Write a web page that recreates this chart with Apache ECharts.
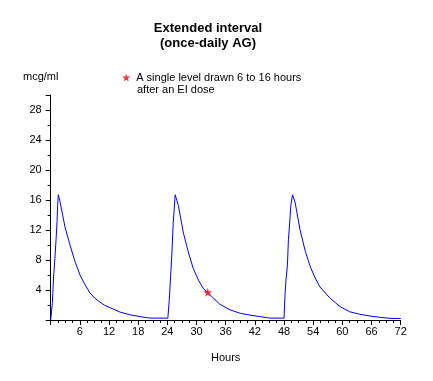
<!DOCTYPE html>
<html>
<head>
<meta charset="utf-8">
<script src="https://cdn.jsdelivr.net/npm/echarts@6/dist/echarts.min.js"></script>
<style>html,body{margin:0;padding:0;background:#fff}#c{width:433px;height:381px}</style>
</head>
<body>
<div id="c"></div>
<script>
// Concentration curve (hours, mcg/ml)
const hours = [0,0.33,0.62,0.88,1.1,1.3,1.43,1.56,1.91,2.94,3.97,5.0,6.03,7.06,8.1,9.1,10.1,11.0,12.2,14.3,16.3,18.4,20.4,24.1,
  24.2,24.4,24.7,24.95,25.2,25.5,25.6,26.25,27.3,28.3,29.3,30.4,31.4,32.4,33.5,34.8,36.9,39.0,41.0,43.1,45.1,48.0,
  48.2,48.4,48.7,48.9,49.2,49.4,49.75,50.3,51.3,52.4,53.4,54.4,55.4,56.5,57.5,59.5,61.5,63.6,65.7,67.7,69.8,72];
const conc = [0,2.2,6.0,8.4,10.7,13.1,15.3,16.7,15.8,12.4,10.0,7.8,6.0,4.7,3.6,2.9,2.4,2.0,1.65,1.05,0.7,0.45,0.25,0.25,
  0.25,2.7,6.2,9.1,12.9,15.6,16.7,15.3,11.6,9.1,6.9,5.3,4.2,3.6,2.9,2.1,1.35,0.9,0.65,0.45,0.25,0.25,
  3.3,5.3,7.3,10.7,13.3,15.3,16.7,15.6,12.0,9.1,7.1,5.6,4.4,3.6,2.9,1.8,1.1,0.76,0.53,0.36,0.22,0.2];
const levelHours = [32.3];
const levelConc = [3.7];
const titleLines = ['Extended interval', '(once-daily AG)'];
const legendLines = ['A single level drawn 6 to 16 hours', 'after an EI dose'];
const yUnit = 'mcg/ml';
const xName = 'Hours';

const font = 'Arial, "Liberation Sans", sans-serif';
const curve = hours.map((h, i) => [h, conc[i]]);
const levels = levelHours.map((h, i) => [h, levelConc[i]]);
const star = 'path://M50,0 L61,35 L98,35 L68,57 L79,91 L50,70 L21,91 L32,57 L2,35 L39,35 Z';
const legendName = legendLines[0];

const chart = echarts.init(document.getElementById('c'), null, {renderer: 'canvas'});
chart.setOption({
  animation: false,
  backgroundColor: '#fff',
  title: {
    text: titleLines.join('\n'),
    left: 208, top: 21, padding: 0,
    textAlign: 'center',
    textStyle: {fontFamily: font, fontSize: 13, fontWeight: 'bold', color: '#000', lineHeight: 15}
  },
  graphic: [{
    type: 'text', left: 23, top: 71,
    style: {text: yUnit, fontFamily: font, fontSize: 11, fill: '#000'}
  }, {
    type: 'text', left: 137, top: 84,
    style: {text: legendLines[1], fontFamily: font, fontSize: 11, fill: '#000'}
  }],
  legend: {
    left: 122, top: 72, padding: 0,
    itemWidth: 10, itemHeight: 8,
    data: [{name: legendName, icon: star, itemStyle: {color: '#ff0000'}}],
    textStyle: {fontFamily: font, fontSize: 11, color: '#000'}
  },
  grid: {left: 50.7, right: 32.3, top: 95, bottom: 61, containLabel: false},
  xAxis: {
    type: 'value', min: 0, max: 72, interval: 6,
    name: xName, nameLocation: 'middle', nameGap: 32,
    nameTextStyle: {fontFamily: font, fontSize: 11, color: '#000'},
    axisLine: {lineStyle: {color: '#000', width: 1}},
    axisTick: {length: 5, lineStyle: {color: '#000'}},
    minorTick: {show: true, splitNumber: 4, length: 3, lineStyle: {color: '#000'}},
    splitLine: {show: false},
    axisLabel: {margin: 6, fontFamily: font, fontSize: 11, color: '#000',
      formatter: v => (v === 0 ? '' : String(v))}
  },
  yAxis: {
    type: 'value', min: 0, max: 30, interval: 4,
    axisLine: {show: true, lineStyle: {color: '#000', width: 1}},
    axisTick: {show: true, length: 5, lineStyle: {color: '#000'}},
    minorTick: {show: true, splitNumber: 2, length: 3, lineStyle: {color: '#000'}},
    splitLine: {show: false},
    axisLabel: {margin: 9, fontFamily: font, fontSize: 11, color: '#000',
      formatter: v => (v === 0 || v === 30 ? '' : String(v))}
  },
  series: [
    {type: 'line', data: curve, showSymbol: false, lineStyle: {color: '#0000ff', width: 1}, itemStyle: {color: '#0000ff'}, z: 2},
    {type: 'scatter', name: legendName, data: levels, symbol: star, symbolSize: 9, itemStyle: {color: '#ff0000'}, z: 3}
  ]
});
</script>
</body>
</html>
